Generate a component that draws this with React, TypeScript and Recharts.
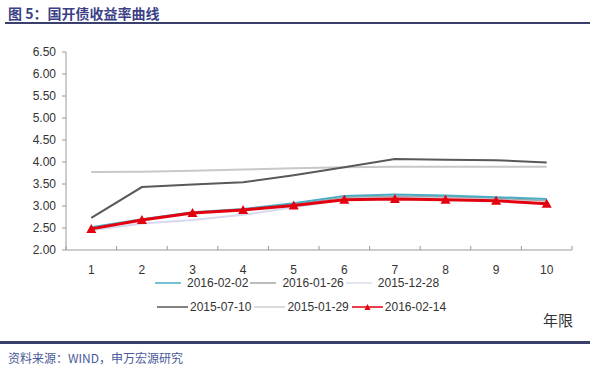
import React from "react";
import { LineChart, Line, XAxis, YAxis } from "recharts";

const terms = [1, 2, 3, 4, 5, 6, 7, 8, 9, 10];
const s20160202 = [2.52, 2.7, 2.86, 2.93, 3.06, 3.23, 3.26, 3.24, 3.2, 3.16];
const s20160126 = [2.5, 2.69, 2.84, 2.91, 3.03, 3.2, 3.22, 3.21, 3.18, 3.12];
const s20151228 = [2.45, 2.6, 2.68, 2.8, 2.97, 3.15, 3.2, 3.2, 3.17, 3.12];
const s20150710 = [2.73, 3.43, 3.49, 3.54, 3.7, 3.88, 4.07, 4.05, 4.04, 3.99];
const s20150129 = [3.77, 3.78, 3.8, 3.83, 3.86, 3.88, 3.89, 3.89, 3.89, 3.89];
const s20160214 = [2.48, 2.68, 2.84, 2.91, 3.01, 3.14, 3.16, 3.14, 3.12, 3.05];
const yTicks = [2, 2.5, 3, 3.5, 4, 4.5, 5, 5.5, 6, 6.5];
const xTicks = [0.5, 1, 1.5, 2, 2.5, 3, 3.5, 4, 4.5, 5, 5.5, 6, 6.5, 7, 7.5, 8, 8.5, 9, 9.5, 10, 10.5];

const data = terms.map((t, i) => ({
  t,
  a: s20160202[i],
  b: s20160126[i],
  c: s20151228[i],
  d: s20150710[i],
  e: s20150129[i],
  f: s20160214[i],
}));

const FONT = '"Liberation Sans", Arial, sans-serif';
const CJK = '"Noto Sans CJK SC", sans-serif';

const XTick = (props: any) => {
  const { x, y, payload } = props;
  const v = payload.value;
  if (Math.abs(v - Math.round(v)) > 0.01) {
    return <line x1={x} x2={x} y1={y} y2={y - 4} stroke="#9a9a9a" strokeWidth={1} />;
  }
  return (
    <text x={x} y={y + 24} textAnchor="middle" fontSize={12} fill="#333" fontFamily={FONT}>
      {v}
    </text>
  );
};

const Tri = (props: any) => {
  const { cx, cy } = props;
  if (cx == null || cy == null) return null;
  return <polygon points={`${cx},${cy - 5} ${cx - 5},${cy + 4} ${cx + 5},${cy + 4}`} fill="#e3000f" />;
};

const legendRow1 = [
  { name: "2016-02-02", color: "#4bacc6" },
  { name: "2016-01-26", color: "#a6a6a6" },
  { name: "2015-12-28", color: "#dcdcee" },
];
const legendRow2 = [
  { name: "2015-07-10", color: "#595959" },
  { name: "2015-01-29", color: "#cfcfcf" },
  { name: "2016-02-14", color: "#e3000f", marker: true },
];

const LegendRow = ({ items, left, top, lineW, gap, after }: any) => (
  <div style={{ position: "absolute", left, top, display: "flex", alignItems: "center", fontFamily: FONT, fontSize: 12, lineHeight: "14px", color: "#333", whiteSpace: "nowrap" }}>
    {items.map((it: any) => (
      <div key={it.name} style={{ display: "flex", alignItems: "center", marginRight: after }}>
        <svg width={lineW} height={10} style={{ marginRight: gap }}>
          <line x1={0} x2={lineW} y1={5} y2={5} stroke={it.color} strokeWidth={1.5} />
          {it.marker && <polygon points={`${lineW / 2},2 ${lineW / 2 - 3},8 ${lineW / 2 + 3},8`} fill={it.color} />}
        </svg>
        <span>{it.name}</span>
      </div>
    ))}
  </div>
);

export default function App() {
  return (
    <div style={{ position: "absolute", left: 0, top: 0, width: 600, height: 370, background: "#fff", overflow: "hidden" }}>
      <div style={{ position: "absolute", left: 8, top: 3, fontFamily: CJK, fontWeight: 700, fontSize: 14, color: "#3b3f86", whiteSpace: "nowrap" }}>
        图 5：国开债收益率曲线
      </div>
      <div style={{ position: "absolute", left: 5, top: 22, width: 585, height: 2, background: "#3b3f6b" }} />
      <div style={{ position: "absolute", left: 0, top: 0 }}>
        <LineChart width={600} height={370} data={data} margin={{ top: 52, right: 28, bottom: 100, left: 10 }}>
          <XAxis
            dataKey="t"
            type="number"
            domain={[0.5, 10.5]}
            ticks={xTicks}
            interval={0}
            tickLine={false}
            tickSize={0}
            tickMargin={0}
            tick={<XTick />}
            stroke="#9a9a9a"
            height={20}
          />
          <YAxis
            type="number"
            domain={[2, 6.5]}
            ticks={yTicks}
            interval={0}
            tickFormatter={(v: number) => v.toFixed(2)}
            tick={{ fontSize: 12, fill: "#333", fontFamily: FONT }}
            tickSize={4}
            tickMargin={6}
            stroke="#9a9a9a"
            width={56}
          />
          <Line dataKey="e" stroke="#c8c8c8" strokeWidth={2} dot={false} isAnimationActive={false} />
          <Line dataKey="d" stroke="#595959" strokeWidth={2} dot={false} isAnimationActive={false} />
          <Line dataKey="c" stroke="#d8d8ee" strokeWidth={2} dot={false} isAnimationActive={false} />
          <Line dataKey="b" stroke="#a6a6a6" strokeWidth={1.5} dot={false} isAnimationActive={false} />
          <Line dataKey="a" stroke="#4bacc6" strokeWidth={2} dot={false} isAnimationActive={false} />
          <Line dataKey="f" stroke="#e3000f" strokeWidth={3} dot={<Tri />} isAnimationActive={false} />
        </LineChart>
      </div>
      <LegendRow items={legendRow1} left={155} top={276} lineW={26} gap={6} after={2} />
      <LegendRow items={legendRow2} left={157} top={300} lineW={31} gap={2} after={3} />
      <div style={{ position: "absolute", left: 543, top: 309, fontFamily: CJK, fontSize: 15, color: "#333" }}>年限</div>
      <div style={{ position: "absolute", left: 0, top: 341, width: 590, height: 3, background: "#3b3f6b" }} />
      <div style={{ position: "absolute", left: 8, top: 350, fontFamily: CJK, fontSize: 12, lineHeight: "16px", color: "#4a5a9a", whiteSpace: "nowrap" }}>
        资料来源：WIND，申万宏源研究
      </div>
    </div>
  );
}
